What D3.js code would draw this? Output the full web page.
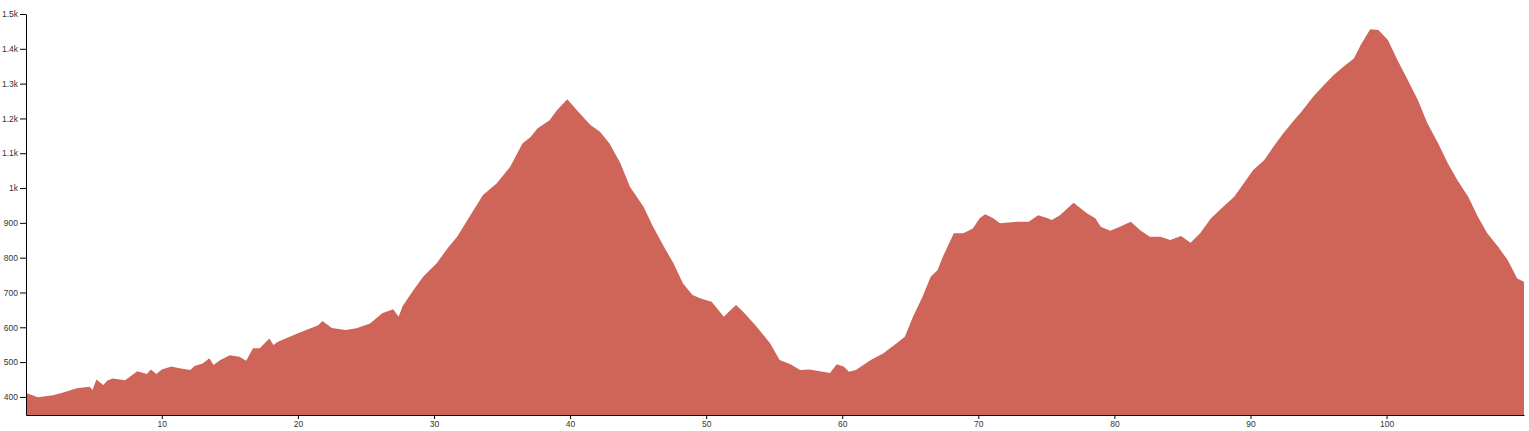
<!DOCTYPE html>
<html>
<head>
<meta charset="utf-8">
<script src="https://cdn.jsdelivr.net/npm/d3@7"></script>
<style>
  html, body { margin: 0; padding: 0; background: #fff; }
  svg { display: block; }
  .axis text { font-family: Arial, "Liberation Sans", sans-serif; font-size: 8.5px; fill: #333; }
</style>
</head>
<body>
<svg id="chart" width="1529" height="431"></svg>
<script>
// distance along route (km)
const distanceKm = [
  0.02, 0.9, 2.0, 2.7, 3.75, 4.7, 4.9, 5.2, 5.7, 6.0, 6.4, 7.3, 8.2, 8.9, 9.2, 9.6, 10.0, 10.7, 11.3, 12.1,
  12.4, 13.0, 13.5, 13.8, 14.3, 15.0, 15.7, 16.2, 16.7, 17.2, 17.9, 18.2, 18.5, 20.0, 21.5, 21.8, 22.5, 23.5,
  24.3, 25.3, 26.2, 27.0, 27.4, 27.7, 28.5, 29.2, 30.2, 31.0, 31.7, 32.6, 33.6, 34.6, 35.6, 36.5, 37.1, 37.6,
  38.5, 39.0, 39.8, 40.7, 41.5, 42.2, 42.9, 43.7, 44.4, 45.4, 46.1, 46.9, 47.6, 48.3, 49.0, 49.6, 50.4, 50.9,
  51.3, 51.8, 52.2, 52.7, 53.7, 54.7, 55.4, 56.2, 56.9, 57.6, 59.1, 59.6, 60.1, 60.5, 61.0, 62.1, 63.0, 64.0,
  64.6, 65.2, 65.9, 66.5, 67.0, 67.4, 68.2, 68.9, 69.6, 70.1, 70.5, 71.1, 71.6, 72.9, 73.7, 74.4, 75.1, 75.4,
  76.0, 77.0, 78.0, 78.6, 79.0, 79.7, 80.4, 81.2, 81.9, 82.6, 83.4, 84.1, 84.9, 85.6, 86.3, 87.1, 88.0, 88.8,
  89.5, 90.2, 91.0, 91.7, 92.4, 93.2, 93.7, 94.6, 95.4, 96.1, 96.8, 97.6, 98.1, 98.8, 99.4, 100.1, 100.8,
  101.5, 102.3, 103.0, 103.8, 104.5, 105.2, 106.0, 106.7, 107.4, 108.2, 108.9, 109.6, 110.1
];
// elevation (m)
const elevationM = [
  411, 399, 405, 412, 425, 429, 420, 450, 434, 447, 453, 448, 474, 466, 479, 466, 479, 487, 482, 477,
  489, 496, 511, 492, 506, 520, 515, 504, 540, 540, 568, 549, 558, 583, 606, 618, 598, 592,
  597, 611, 640, 652, 630, 661, 707, 745, 784, 827, 860, 917, 980, 1013, 1061, 1128, 1147, 1171,
  1195, 1222, 1255, 1215, 1181, 1162, 1128, 1071, 1004, 946, 889, 831, 784, 726, 693, 683, 673, 650,
  630, 650, 664, 645, 602, 554, 506, 494, 477, 479, 469, 494, 487, 472, 477, 506, 525, 554,
  573, 630, 688, 745, 764, 803, 870, 870, 884, 913, 925, 913, 899, 903, 903, 922, 913, 908,
  922, 958, 927, 913, 889, 877, 889, 903, 879, 860, 860, 851, 862, 843, 870, 913, 946, 975,
  1013, 1052, 1080, 1119, 1157, 1195, 1217, 1262, 1296, 1324, 1348, 1372, 1411, 1456, 1454, 1425, 1368,
  1315, 1253, 1186, 1128, 1071, 1023, 975, 918, 870, 831, 793, 740, 731
];
const xTicks = [10, 20, 30, 40, 50, 60, 70, 80, 90, 100];
const yTicks = [400, 500, 600, 700, 800, 900, 1000, 1100, 1200, 1300, 1400, 1500];

const data = distanceKm.map((d, i) => ({ x: d, y: elevationM[i] }));

const width = 1529, height = 431;
const margin = { top: 14, right: 5, bottom: 16, left: 26 };

const svg = d3.select("#chart");

const x = d3.scaleLinear()
  .domain([0.02, 110.1])
  .range([margin.left, width - margin.right]);

const y = d3.scaleLinear()
  .domain([348, 1500])
  .range([height - margin.bottom, margin.top]);

const area = d3.area()
  .x(d => x(d.x))
  .y0(y(348))
  .y1(d => y(d.y));

svg.append("path")
  .datum(data)
  .attr("fill", "#cf6459")
  .attr("d", area);

svg.append("g")
  .attr("class", "axis")
  .attr("transform", `translate(0,${height - margin.bottom})`)
  .call(d3.axisBottom(x).tickValues(xTicks).tickSize(4).tickPadding(2).tickSizeOuter(0))
  .call(g => g.selectAll("text").attr("dy", "0.7em"));

svg.append("g")
  .attr("class", "axis")
  .attr("transform", `translate(${margin.left},0)`)
  .call(d3.axisLeft(y).tickValues(yTicks).tickFormat(d3.format("~s")).tickPadding(2).tickSizeOuter(0));
</script>
</body>
</html>
